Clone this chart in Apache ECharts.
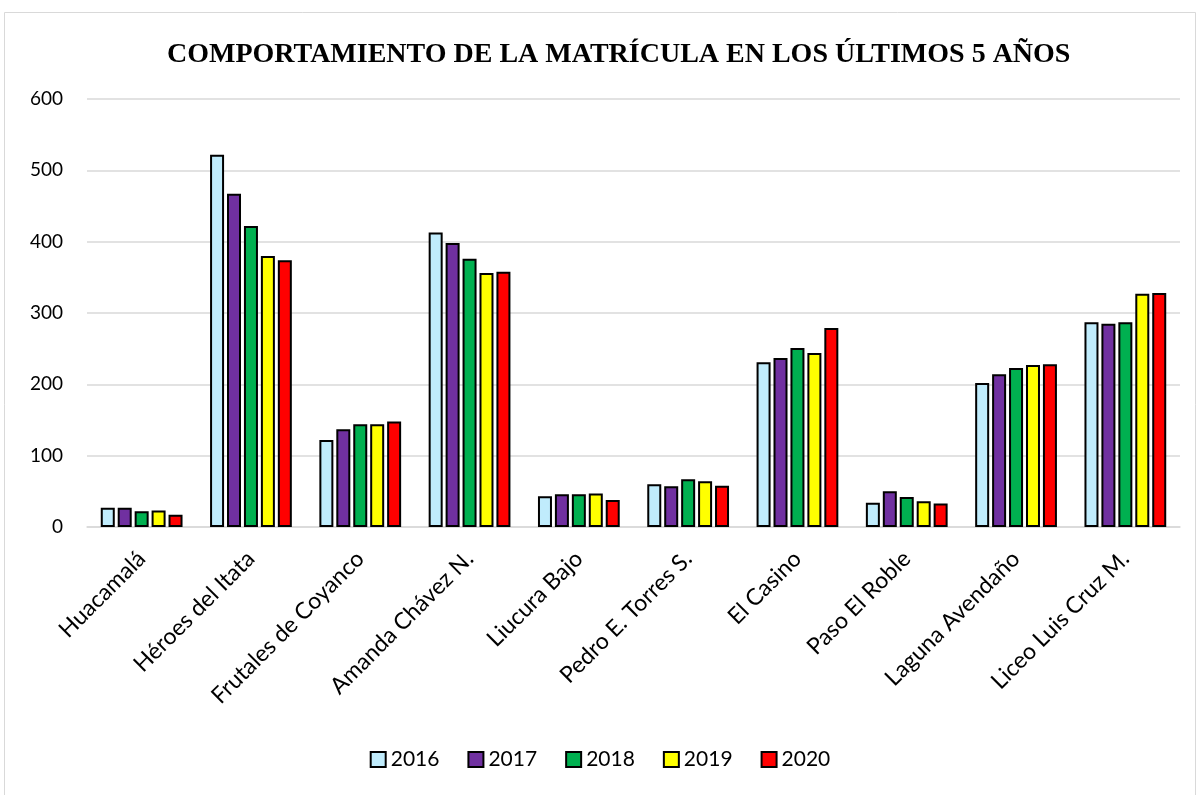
<!DOCTYPE html>
<html>
<head>
<meta charset="utf-8">
<script src="https://cdn.jsdelivr.net/npm/echarts@6/dist/echarts.min.js"></script>
<style>
  html, body { margin: 0; padding: 0; background: #fff; }
  #chart { width: 1200px; height: 795px; }
</style>
</head>
<body>
<div id="chart"></div>
<script>
// escuelas
const categories = ['Huacamalá', 'Héroes del Itata', 'Frutales de Coyanco', 'Amanda Chávez N.', 'Liucura Bajo',
  'Pedro E. Torres S.', 'El Casino', 'Paso El Roble', 'Laguna Avendaño', 'Liceo Luis Cruz M.'];

// matrícula por año
const y2016 = [27, 522, 122, 413, 43, 60, 231, 34, 202, 287];
const y2017 = [27, 467, 137, 398, 46, 57, 237, 50, 214, 285];
const y2018 = [22, 422, 144, 376, 46, 67, 251, 42, 223, 287];
const y2019 = [23, 380, 144, 356, 47, 64, 244, 36, 227, 327];
const y2020 = [17, 374, 148, 358, 38, 58, 279, 33, 228, 328];

const years = ['2016', '2017', '2018', '2019', '2020'];
const colors = ['#c0ecfc', '#7030a0', '#00b050', '#ffff00', '#ff0000'];
const yTicks = [0, 100, 200, 300, 400, 500, 600];

const chart = echarts.init(document.getElementById('chart'));

const mkSeries = (name, data, color) => ({
  name: name,
  type: 'bar',
  data: data,
  barWidth: 14,
  barGap: '21%',
  itemStyle: {
    color: color,
    borderColor: '#000',
    borderWidth: 2
  },
  emphasis: { disabled: true }
});

chart.setOption({
  backgroundColor: '#fff',
  animation: false,
  graphic: [{
    type: 'rect',
    shape: { x: 4.5, y: 12.5, width: 1191, height: 790 },
    style: { fill: 'none', stroke: '#d9d9d9', lineWidth: 1 },
    silent: true
  }],
  title: {
    text: 'COMPORTAMIENTO DE LA MATRÍCULA EN LOS ÚLTIMOS 5 AÑOS',
    left: 162,
    top: 36,
    textStyle: {
      fontFamily: 'Liberation Serif',
      fontWeight: 'bold',
      fontSize: 28,
      color: '#000'
    }
  },
  legend: {
    bottom: 20,
    left: 'center',
    itemWidth: 15,
    itemHeight: 15,
    itemGap: 28,
    icon: 'rect',
    textStyle: { fontFamily: 'Lato', fontSize: 21, color: '#000' },
    data: years
  },
  grid: { left: 87, right: 20, top: 99, bottom: 268, containLabel: false },
  xAxis: {
    type: 'category',
    data: categories,
    axisLine: { lineStyle: { color: '#d9d9d9', width: 1.5 } },
    axisTick: { show: false },
    axisLabel: {
      rotate: 45,
      interval: 0,
      margin: 28,
      fontFamily: 'Lato',
      fontSize: 23,
      color: '#000'
    }
  },
  yAxis: {
    type: 'value',
    min: yTicks[0],
    max: yTicks[yTicks.length - 1],
    interval: 100,
    axisLine: { show: false },
    axisTick: { show: false },
    splitLine: { lineStyle: { color: '#d9d9d9', width: 1.5 } },
    axisLabel: {
      margin: 24,
      fontFamily: 'Lato',
      fontSize: 19,
      color: '#000'
    }
  },
  series: [
    mkSeries(years[0], y2016, colors[0]),
    mkSeries(years[1], y2017, colors[1]),
    mkSeries(years[2], y2018, colors[2]),
    mkSeries(years[3], y2019, colors[3]),
    mkSeries(years[4], y2020, colors[4])
  ]
});
</script>
</body>
</html>
